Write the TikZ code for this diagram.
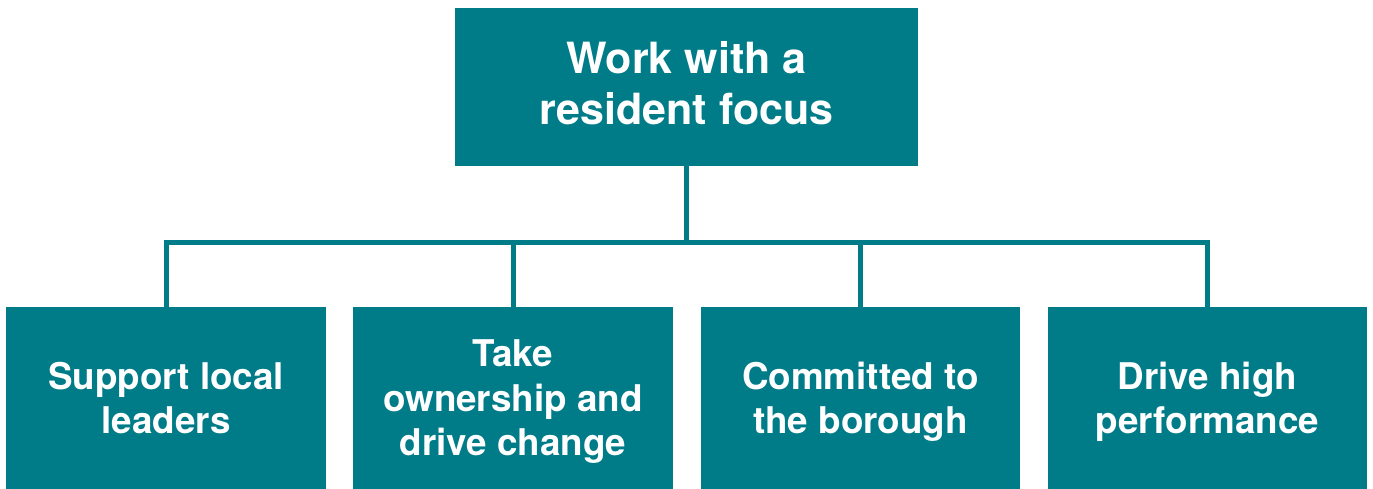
\documentclass[tikz,border=0pt]{standalone}
\usepackage{fontspec}
\setmainfont{TeX Gyre Heros}
\definecolor{teal1}{HTML}{007C89}
\begin{document}
\begin{tikzpicture}[x=1pt,y=-1pt,
  box/.style={fill=teal1,draw=none,inner sep=0pt,text=white,align=center,
    font=\bfseries\fontsize{36.8}{44.5}\selectfont,minimum height=182pt,text depth=0pt},
  link/.style={draw=teal1,line width=5pt}]
\useasboundingbox (0,0) rectangle (1373,489);
\node[box,minimum width=463pt,minimum height=158pt,text depth=8pt,font=\bfseries\fontsize{43}{51}\selectfont] (top) at (686.5,87) {Work with a\\resident focus};
\node[box,minimum width=320pt] (b1) at (166,398) {Support local\\leaders};
\node[box,minimum width=320pt] (b2) at (513,398) {Take\\ownership and\\drive change};
\node[box,minimum width=319pt] (b3) at (860.5,398) {Committed to\\the borough};
\node[box,minimum width=319pt] (b4) at (1207.5,398) {Drive high\\performance};
\coordinate (bus) at (0,242);
\draw[link] (top.south) -- (top.south |- bus);
\draw[link] (b1.north) |- (b4.north |- bus) -- (b4.north);
\draw[link] (b2.north) -- (b2.north |- bus);
\draw[link] (b3.north) -- (b3.north |- bus);
\end{tikzpicture}
\end{document}
